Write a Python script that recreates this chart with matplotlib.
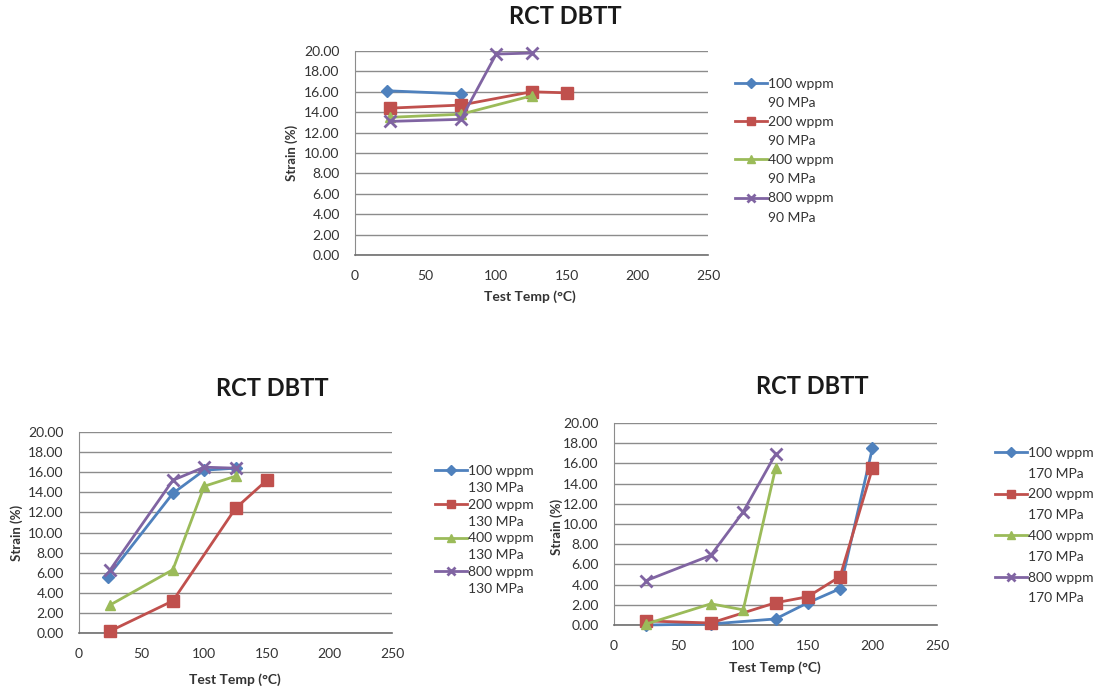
import matplotlib
matplotlib.use("Agg")
import matplotlib.pyplot as plt
from matplotlib.lines import Line2D

plt.rcParams['font.family'] = ['Lato', 'DejaVu Sans']

# ---------------- data ----------------
series_names = ["100 wppm", "200 wppm", "400 wppm", "800 wppm"]
colors = ["#4F81BD", "#C0504D", "#9BBB59", "#8064A2"]
markers = ["D", "s", "^", "x"]
marker_sizes = [6, 8, 7, 8]

# 90 MPa
t90_100 = [23, 75];                 s90_100 = [16.1, 15.8]
t90_200 = [25, 75, 125, 150];       s90_200 = [14.4, 14.7, 16.0, 15.9]
t90_400 = [25, 75, 125];            s90_400 = [13.5, 13.8, 15.6]
t90_800 = [25, 75, 100, 125];       s90_800 = [13.1, 13.3, 19.7, 19.8]

# 130 MPa
t130_100 = [23, 75, 100, 125];      s130_100 = [5.6, 13.9, 16.2, 16.4]
t130_200 = [25, 75, 125, 150];      s130_200 = [0.2, 3.2, 12.4, 15.2]
t130_400 = [25, 75, 100, 125];      s130_400 = [2.8, 6.3, 14.6, 15.6]
t130_800 = [25, 75, 100, 125];      s130_800 = [6.3, 15.2, 16.5, 16.4]

# 170 MPa
t170_100 = [25, 75, 125, 150, 175, 200];  s170_100 = [0.0, 0.1, 0.6, 2.2, 3.6, 17.5]
t170_200 = [25, 75, 125, 150, 175, 200];  s170_200 = [0.4, 0.2, 2.2, 2.8, 4.8, 15.5]
t170_400 = [25, 75, 100, 125];            s170_400 = [0.1, 2.1, 1.5, 15.5]
t170_800 = [25, 75, 100, 125];            s170_800 = [4.4, 6.9, 11.2, 16.9]

x_ticks = [0, 50, 100, 150, 200, 250]
y_ticks = [0, 2, 4, 6, 8, 10, 12, 14, 16, 18, 20]
title = "RCT DBTT"
xlabel = "Test Temp (°C)"
ylabel = "Strain (%)"

W, H = 1100, 689
fig = plt.figure(figsize=(11, 6.89), dpi=100)


def px_axes(left, top, right, bottom):
    return fig.add_axes([left / W, 1 - bottom / H, (right - left) / W, (bottom - top) / H])


def draw_chart(ax, data, mpa, title_xy, xlabel_xy, ylabel_xy, leg_xy, leg_spacing):
    handles = []
    for (t, s), c, m, ms in zip(data, colors, markers, marker_sizes):
        mew = 2 if m == "x" else 1
        ln, = ax.plot(t, s, color=c, marker=m, markersize=ms, markeredgewidth=mew,
                      linewidth=2.0, clip_on=False, zorder=3)
        handles.append(ln)
    ax.set_xlim(0, 250)
    ax.set_ylim(0, 20)
    ax.set_xticks(x_ticks)
    ax.set_yticks(y_ticks)
    ax.set_yticklabels([f"{v:.2f}" for v in y_ticks])
    ax.tick_params(length=0, labelsize=10, colors="#333333")
    ax.tick_params(axis="y", pad=11)
    ax.tick_params(axis="x", pad=11)
    ax.grid(axis="y", color="#8c8c8c", linewidth=1.0)
    ax.set_axisbelow(True)
    for sp in ["top", "right"]:
        ax.spines[sp].set_visible(False)
    ax.spines["left"].set_color("#8c8c8c")
    ax.spines["bottom"].set_color("#6e6e6e")
    ax.spines["bottom"].set_linewidth(1.2)
    fig.text(title_xy[0] / W, 1 - title_xy[1] / H, title, ha="center", va="center",
             fontsize=17, fontweight="bold", color="#1a1a1a")
    fig.text(xlabel_xy[0] / W, 1 - xlabel_xy[1] / H, xlabel, ha="center", va="center",
             fontsize=10, fontweight="bold", color="#333333")
    fig.text(ylabel_xy[0] / W, 1 - ylabel_xy[1] / H, ylabel, ha="center", va="center",
             fontsize=9.5, fontweight="bold", color="#333333", rotation=90)
    blank = Line2D([], [], linestyle="none", marker=None)
    lh, ll = [], []
    for h, n in zip(handles, series_names):
        lh += [Line2D([], [], color=h.get_color(), marker=h.get_marker(),
                      markersize=h.get_markersize() * 0.8, markeredgewidth=h.get_markeredgewidth(),
                      linewidth=2.0), blank]
        ll += [n, mpa]
    fig.legend(lh, ll, loc="upper left", bbox_to_anchor=(leg_xy[0] / W, 1 - leg_xy[1] / H),
               bbox_transform=fig.transFigure, frameon=False, fontsize=10,
               handlelength=2.3, handletextpad=0.1, labelspacing=leg_spacing,
               borderpad=0, borderaxespad=0, labelcolor="#333333")


ax1 = px_axes(355, 51, 708, 255)
draw_chart(ax1, [(t90_100, s90_100), (t90_200, s90_200), (t90_400, s90_400), (t90_800, s90_800)],
           "90 MPa", (565, 16), (530, 297), (292, 153), (735, 78), 0.51)

ax2 = px_axes(79, 432, 392, 633)
draw_chart(ax2, [(t130_100, s130_100), (t130_200, s130_200), (t130_400, s130_400), (t130_800, s130_800)],
           "130 MPa", (272, 388), (235, 680), (17, 533), (435, 465), 0.35)

ax3 = px_axes(614, 423, 937, 625)
draw_chart(ax3, [(t170_100, s170_100), (t170_200, s170_200), (t170_400, s170_400), (t170_800, s170_800)],
           "170 MPa", (812, 387), (775, 668), (557, 527), (995, 447), 0.63)

fig.savefig("out.png", dpi=100)
